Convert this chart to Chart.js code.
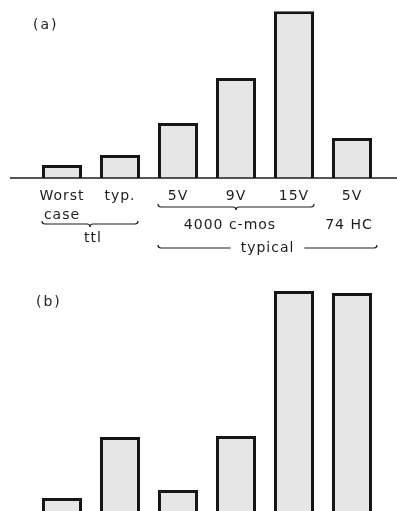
<!DOCTYPE html>
<html>
<head>
<meta charset="utf-8">
<script src="https://cdn.jsdelivr.net/npm/chart.js@4/dist/chart.umd.min.js"></script>
<style>
  html, body { margin: 0; padding: 0; background: #fff; width: 397px; height: 511px; overflow: hidden; }
  .panel { position: absolute; left: 0; width: 397px; }
  #boxA { top: 0; height: 260px; }
  #boxB { top: 260px; height: 251px; }
  .tag { position: absolute; font: 14px "DejaVu Sans", sans-serif; color: #222; letter-spacing: 2px; }
</style>
</head>
<body>
<div class="panel" id="boxA"><canvas id="chartA" width="397" height="260"></canvas></div>
<div class="panel" id="boxB"><canvas id="chartB" width="397" height="251"></canvas></div>
<div class="tag" style="left:33px; top:16px;">(a)</div>
<div class="tag" style="left:36px; top:293px;">(b)</div>
<script>
// categories (x tick labels) and bar heights (relative units)
const categories = [["Worst", "case"], "typ.", "5V", "9V", "15V", "5V"];
const valuesA = [0.78, 1.38, 3.3, 6.0, 10.0, 2.4];
const valuesB = [1.06, 3.70, 1.41, 3.75, 10.02, 9.94];
const groupTtl = "ttl";
const groupCmos = "4000 c-mos";
const groupHc = "74 HC";
const groupTypical = "typical";

const INK = "#1c1c1c";
const FONT = "14px 'DejaVu Sans', sans-serif";

Chart.defaults.font.family = "'DejaVu Sans', sans-serif";
Chart.defaults.color = INK;

function barDataset(data) {
  return {
    data: data,
    backgroundColor: "#e6e6e6",
    borderColor: "#161616",
    borderWidth: 3,
    borderSkipped: "start",
    barPercentage: 0.69,
    categoryPercentage: 1
  };
}

// curly brace lying on its back, point in the middle going down
function drawBrace(ctx, x1, x2, y, h) {
  const mid = (x1 + x2) / 2;
  ctx.beginPath();
  ctx.moveTo(x1, y - h);
  ctx.quadraticCurveTo(x1, y, x1 + h, y);
  ctx.lineTo(mid - h, y);
  ctx.quadraticCurveTo(mid, y, mid, y + h);
  ctx.quadraticCurveTo(mid, y, mid + h, y);
  ctx.lineTo(x2 - h, y);
  ctx.quadraticCurveTo(x2, y, x2, y - h);
  ctx.stroke();
}

const spacingPlugin = {
  id: "spacing",
  beforeDraw(chart) {
    chart.ctx.letterSpacing = "1px";
  }
};

const groupPlugin = {
  id: "groups",
  afterDraw(chart) {
    const ctx = chart.ctx;
    const xs = chart.scales.x;
    const y0 = chart.scales.y.getPixelForValue(0);
    const half = 20;
    const px = (i) => xs.getPixelForValue(i);
    ctx.save();
    ctx.letterSpacing = "1px";
    ctx.strokeStyle = INK;
    ctx.fillStyle = INK;

    // base line
    ctx.lineWidth = 1.5;
    ctx.beginPath();
    ctx.moveTo(10, y0);
    ctx.lineTo(chart.width, y0);
    ctx.stroke();

    ctx.lineWidth = 1.2;
    ctx.font = FONT;
    ctx.textAlign = "center";
    ctx.textBaseline = "middle";

    // ttl brace
    drawBrace(ctx, px(0) - half, px(1) + 18, 224, 3);
    ctx.fillText(groupTtl, (px(0) + px(1)) / 2 + 2, 238);

    // 4000 c-mos brace
    drawBrace(ctx, px(2) - half, px(4) + half, 207, 3);
    ctx.fillText(groupCmos, px(3) - 6, 225);
    ctx.fillText(groupHc, px(5) - 3, 225);

    // typical line
    const l = px(2) - half, r = px(5) + 25, ly = 248;
    const c = (l + r) / 2;
    const tw = ctx.measureText(groupTypical).width / 2 + 10;
    ctx.beginPath();
    ctx.moveTo(l, ly - 3);
    ctx.quadraticCurveTo(l, ly, l + 3, ly);
    ctx.lineTo(c - tw, ly);
    ctx.moveTo(c + tw, ly);
    ctx.lineTo(r - 3, ly);
    ctx.quadraticCurveTo(r, ly, r, ly - 3);
    ctx.stroke();
    ctx.fillText(groupTypical, c, ly);
    ctx.restore();
  }
};

new Chart(document.getElementById("chartA"), {
  type: "bar",
  data: { labels: categories, datasets: [barDataset(valuesA)] },
  options: {
    responsive: false,
    animation: false,
    devicePixelRatio: 1,
    layout: { padding: { left: 33, right: 16, top: 8, bottom: 0 } },
    plugins: { legend: { display: false }, tooltip: { enabled: false } },
    scales: {
      x: {
        grid: { display: false },
        border: { display: false },
        ticks: {
          autoSkip: false,
          maxRotation: 0,
          padding: 1,
          color: INK,
          font: { size: 14, lineHeight: 1.35 }
        },
        afterFit: (scale) => { scale.height = 82; }
      },
      y: { display: false, min: 0, max: 10.2 }
    }
  },
  plugins: [spacingPlugin, groupPlugin]
});

new Chart(document.getElementById("chartB"), {
  type: "bar",
  data: { labels: categories, datasets: [barDataset(valuesB)] },
  options: {
    responsive: false,
    animation: false,
    devicePixelRatio: 1,
    layout: { padding: { left: 33, right: 16, top: 20, bottom: 0 } },
    plugins: { legend: { display: false }, tooltip: { enabled: false } },
    scales: {
      x: { display: false },
      y: { display: false, min: 0.5, max: 10.5 }
    }
  }
});
</script>
</body>
</html>
